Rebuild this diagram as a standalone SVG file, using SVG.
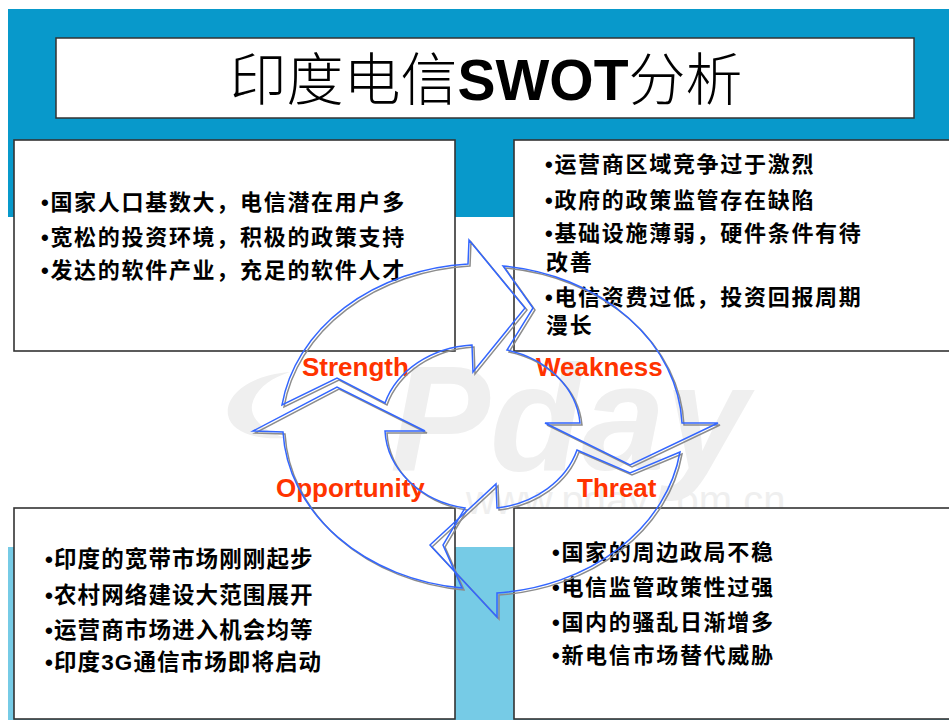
<svg xmlns="http://www.w3.org/2000/svg" width="949" height="720" viewBox="0 0 949 720">
<defs>
<style>
.box{fill:#fff;stroke:#333;stroke-width:1.6}
.txt{font-family:"Liberation Sans","Noto Sans CJK SC",sans-serif;font-weight:bold;font-size:22px;letter-spacing:1.7px;fill:#000}
.txtO{font-size:22.5px;letter-spacing:1.1px}
.lbl{font-family:"Liberation Sans",Arial,sans-serif;font-weight:bold;font-size:26px;fill:#FF3300}
.arr{fill:none;stroke:#3366FF;stroke-width:1.5;stroke-linejoin:miter}
.shd{fill:none;stroke:#8C8C8C;stroke-width:1.5}
.wm{font-family:"Liberation Sans",sans-serif;fill:#EFEFEF}
</style>
<path id="a1" d="M282,405 A202,165 0 0 1 468,264 L469,240 L525,308 L473,372 L472,345 A98,82 0 0 0 385,403 L337,378 Z"/>
<path id="a2" d="M503,266 A202,165 0 0 1 682,423 L718,423 L630,465 L545,423 L580,423 A98,82 0 0 0 507,350 L533,308 Z"/>
<path id="a3" d="M680,452 A202,165 0 0 1 497,593 L497,617 L430,545 L496,484 L497,508 A98,82 0 0 0 577,450 L630,473 Z"/>
<path id="a4" d="M462,588 A202,165 0 0 1 283,432 L253,431 L337,387 L425,431 L385,431 A98,82 0 0 0 465,508 L443,545 Z"/>
</defs>
<rect width="949" height="720" fill="#fff"/>
<g id="background">
<rect x="8" y="9" width="941" height="208" fill="#0899CB"/>
<rect x="8" y="547" width="941" height="173" fill="#76CBE6"/>
</g>
<g id="watermark">
<path d="M290,372 C250,375 225,395 228,415 C231,432 255,440 285,438 C262,430 250,418 252,405 C255,390 270,378 290,372 Z" fill="#EFEFEF"/>
<text class="wm" x="390" y="470" font-size="150" font-weight="bold" font-style="italic">Pday</text>
<text class="wm" x="466" y="514" font-size="40" fill="#E8E8E8">www.pday.com.cn</text>
</g>
<g id="title">
<rect x="56" y="38" width="858" height="80" fill="#fff" stroke="#333" stroke-width="1.5"/>
<text x="486" y="100" text-anchor="middle" font-family="'Liberation Sans','Noto Sans CJK SC',sans-serif" font-size="57" font-weight="300" fill="#000">印度电信<tspan font-weight="bold">SWOT</tspan>分析</text>
</g>
<g id="strength-box">
<rect class="box" x="14" y="140" width="441" height="211"/>
<text class="txt" x="41" y="210">•国家人口基数大，电信潜在用户多</text>
<text class="txt" x="41" y="245">•宽松的投资环境，积极的政策支持</text>
<text class="txt" x="41" y="278">•发达的软件产业，充足的软件人才</text>
</g>
<g id="weakness-box">
<rect class="box" x="514" y="140" width="446" height="211"/>
<text class="txt" x="545" y="172">•运营商区域竞争过于激烈</text>
<text class="txt" x="545" y="208">•政府的政策监管存在缺陷</text>
<text class="txt" x="545" y="241">•基础设施薄弱，硬件条件有待</text>
<text class="txt" x="546" y="270">改善</text>
<text class="txt" x="545" y="305">•电信资费过低，投资回报周期</text>
<text class="txt" x="546" y="333">漫长</text>
</g>
<g id="opportunity-box">
<rect class="box" x="14" y="508" width="441" height="211"/>
<text class="txt txtO" x="45" y="567">•印度的宽带市场刚刚起步</text>
<text class="txt txtO" x="45" y="603">•农村网络建设大范围展开</text>
<text class="txt txtO" x="45" y="638">•运营商市场进入机会均等</text>
<text class="txt txtO" x="45" y="670">•印度3G通信市场即将启动</text>
</g>
<g id="threat-box">
<rect class="box" x="514" y="508" width="446" height="211"/>
<text class="txt" x="552" y="560">•国家的周边政局不稳</text>
<text class="txt" x="552" y="595">•电信监管政策性过强</text>
<text class="txt" x="552" y="630">•国内的骚乱日渐增多</text>
<text class="txt" x="552" y="663">•新电信市场替代威胁</text>
</g>
<g id="label-strength"><text class="lbl" x="302" y="376">Strength</text></g>
<g id="label-weakness"><text class="lbl" x="536" y="376">Weakness</text></g>
<g id="label-opportunity"><text class="lbl" x="276" y="497">Opportunity</text></g>
<g id="label-threat"><text class="lbl" x="577" y="497">Threat</text></g>
<g id="connectors">
<g transform="translate(2,2)">
<use href="#a1" class="shd"/>
<use href="#a2" class="shd"/>
<use href="#a3" class="shd"/>
<use href="#a4" class="shd"/>
</g>
<use href="#a1" class="arr"/>
<use href="#a2" class="arr"/>
<use href="#a3" class="arr"/>
<use href="#a4" class="arr"/>
</g>
</svg>
